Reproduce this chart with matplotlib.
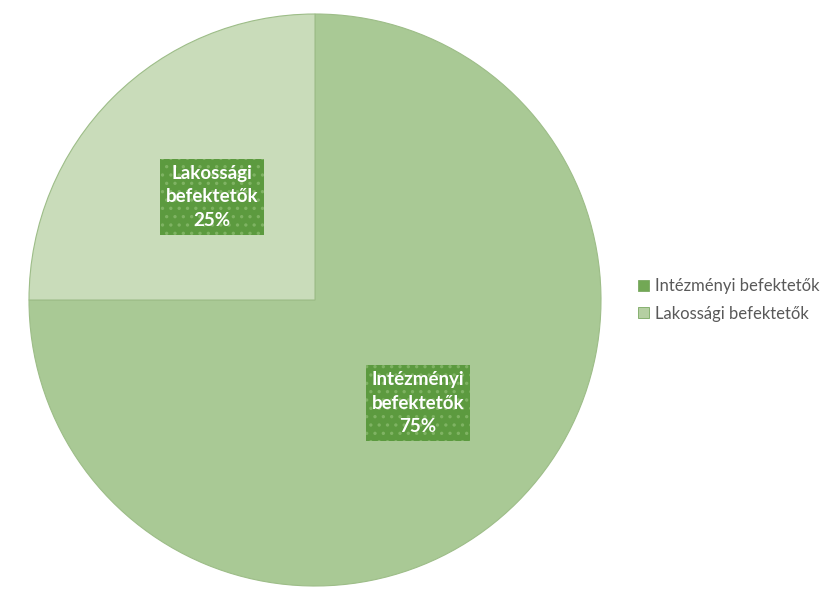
import matplotlib
matplotlib.use("Agg")
import matplotlib.pyplot as plt
from matplotlib.patches import Patch

categories = ["Intézményi befektetők", "Lakossági befektetők"]
shares = [75, 25]
label_lines = ["Intézményi\nbefektetők", "Lakossági\nbefektetők"]

slice_colors = ["#a9c995", "#c9dcba"]
box_color = "#5c9a3f"
dot_color = "#7fb363"

plt.rcParams["hatch.linewidth"] = 1.2

fig = plt.figure(figsize=(8.26, 5.90), dpi=100)
fig.patch.set_facecolor("white")

ax = fig.add_axes([29 / 826, 4 / 590, 572 / 826, 572 / 590])
wedges, texts = ax.pie(
    shares,
    colors=slice_colors,
    startangle=90,
    counterclock=False,
    radius=1.0,
    labels=[f"{name}\n{v}%" for name, v in zip(label_lines, shares)],
    labeldistance=0.51,
    wedgeprops=dict(edgecolor="#9dbd88", linewidth=0.8),
)
ax.set_xlim(-1.0, 1.0)
ax.set_ylim(-1.0, 1.0)
ax.set_aspect("equal")
ax.axis("off")

for t in texts:
    t.set_horizontalalignment("center")
    t.set_verticalalignment("center")
    t.set_multialignment("center")
    t.set_family("Lato")
    t.set_weight("bold")
    t.set_fontsize(13.5)
    t.set_color("white")
    t.set_linespacing(1.45)
    t.set_bbox(dict(boxstyle="square,pad=0.32", facecolor=box_color,
                    edgecolor=dot_color, hatch="..", linewidth=0))

handles = [Patch(facecolor=c, edgecolor="#7aa862", linewidth=0.6) for c in ["#72a855", "#b5cfa2"]]
leg = fig.legend(
    handles, categories,
    loc="upper left", bbox_to_anchor=(638 / 826, 1 - 278 / 590),
    frameon=False, prop=dict(family="Lato", size=12),
    handlelength=0.65, handleheight=0.65, handletextpad=0.35,
    labelspacing=0.7, borderaxespad=0, borderpad=0,
)
for t in leg.get_texts():
    t.set_color("#595959")

fig.savefig("out.png", dpi=100, facecolor="white")
